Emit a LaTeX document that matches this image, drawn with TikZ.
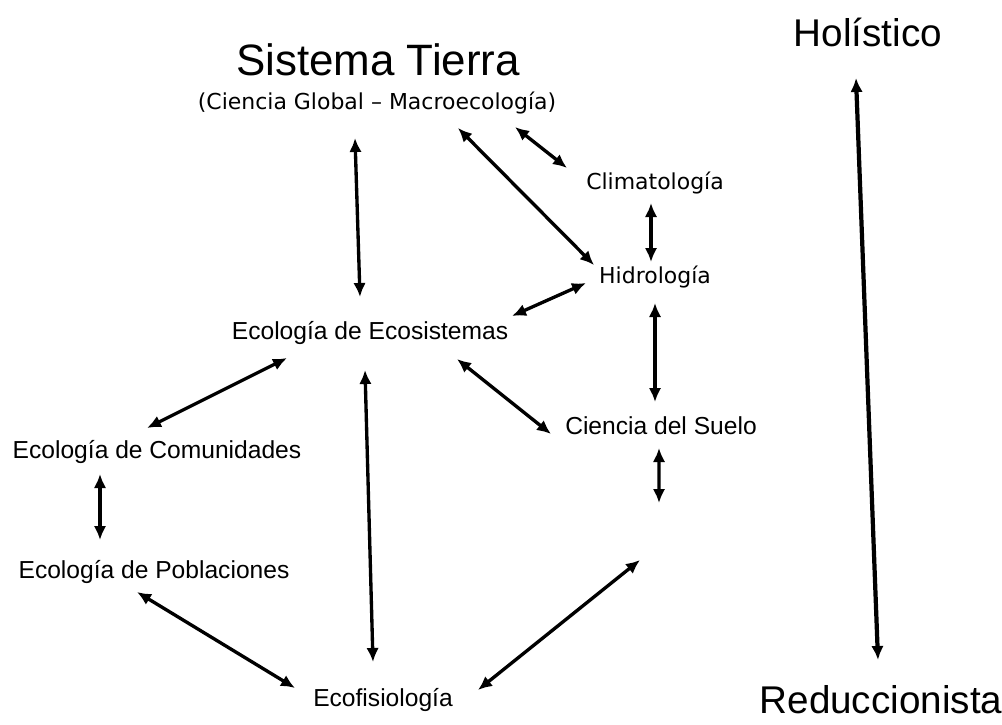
\documentclass[tikz,border=0pt]{standalone}
\usepackage{fontspec}
\setmainfont{Liberation Sans}
\newfontfamily\tahoma{DejaVu Sans}
\usepackage{tikz}
\usetikzlibrary{arrows.meta,calc,positioning}

\tikzset{
  link/.style={{Latex[length=2.8mm,width=2.5mm]}-{Latex[length=2.8mm,width=2.5mm]}, line width=1.9pt},
  field/.style={font=\fontsize{14}{16}\selectfont, inner sep=1pt},
  small/.style={font=\tahoma\fontsize{12.5}{15}\selectfont, inner sep=1pt},
  pole/.style={font=\fontsize{22}{26}\selectfont, inner sep=1pt}
}

\begin{document}
\begin{tikzpicture}[scale=1.0]
    \useasboundingbox (0,0) rectangle (20.04,14.48);
    % Disciplinas
    \node[font=\fontsize{25}{30}\selectfont, inner sep=1pt] (tierra) at (7.56,13.28) {Sistema Tierra};
    \node[small] (macro) at (7.54,12.42) {(Ciencia Global – Macroecología)};
    \node[small] (clima) at (13.1,10.82) {Climatología};
    \node[small] (hidro) at (13.1,8.94) {Hidrología};
    \node[field] (ecosis) at (7.4,7.82) {Ecología de Ecosistemas};
    \node[field] (suelo) at (13.22,5.96) {Ciencia del Suelo};
    \node[field] (comun) at (3.14,5.44) {Ecología de Comunidades};
    \node[field] (pobla) at (3.08,3.04) {Ecología de Poblaciones};
    \node[field] (ecofis) at (7.66,0.48) {Ecofisiología};
    \coordinate (blank) at (13.1,3.88);
    % Escala de enfoque
    \node[pole] (holis) at (17.36,13.84) {Holístico};
    \node[pole] (reduc) at (17.62,0.48) {Reduccionista};
    % Relaciones
    \draw[link] ($(macro)+(-0.44,-0.70)$) -- ($(ecosis)+(-0.2,0.72)$);
    \draw[link] ($(macro)+(2.76,-0.48)$) -- ($(clima)+(-1.76,0.30)$);
    \draw[link] ($(macro)+(1.62,-0.50)$) -- ($(hidro)+(-1.22,0.24)$);
    \draw[link] ($(clima)+(-0.08,-0.40)$) -- ($(hidro)+(-0.08,0.30)$);
    \draw[link] ($(ecosis)+(2.84,0.34)$) -- ($(hidro)+(-1.38,-0.12)$);
    \draw[link] ($(hidro)+(0,-0.52)$) -- ($(suelo)+(-0.12,0.48)$);
    \draw[link] ($(ecosis)+(1.74,-0.52)$) -- ($(suelo)+(-2.2,-0.16)$);
    \draw[link] ($(ecosis)+(-1.66,-0.50)$) -- ($(comun)+(-0.2,0.48)$);
    \draw[link] ($(comun)+(-1.14,-0.44)$) -- ($(pobla)+(-1.08,0.64)$);
    \draw[link] ($(ecosis)+(-0.10,-0.74)$) -- ($(ecofis)+(-0.2,0.76)$);
    \draw[link] ($(pobla)+(-0.34,-0.40)$) -- ($(ecofis)+(-1.76,0.24)$);
    \draw[link] ($(suelo)+(-0.04,-0.44)$) -- ($(blank)+(0.08,0.54)$);
    \draw[link] ($(ecofis)+(1.9,0.2)$) -- ($(blank)+(-0.3,-0.6)$);
    \draw[link, line width=2.4pt] ($(holis)+(-0.24,-0.92)$) -- ($(reduc)+(-0.06,0.8)$);
  \end{tikzpicture}
\end{document}
